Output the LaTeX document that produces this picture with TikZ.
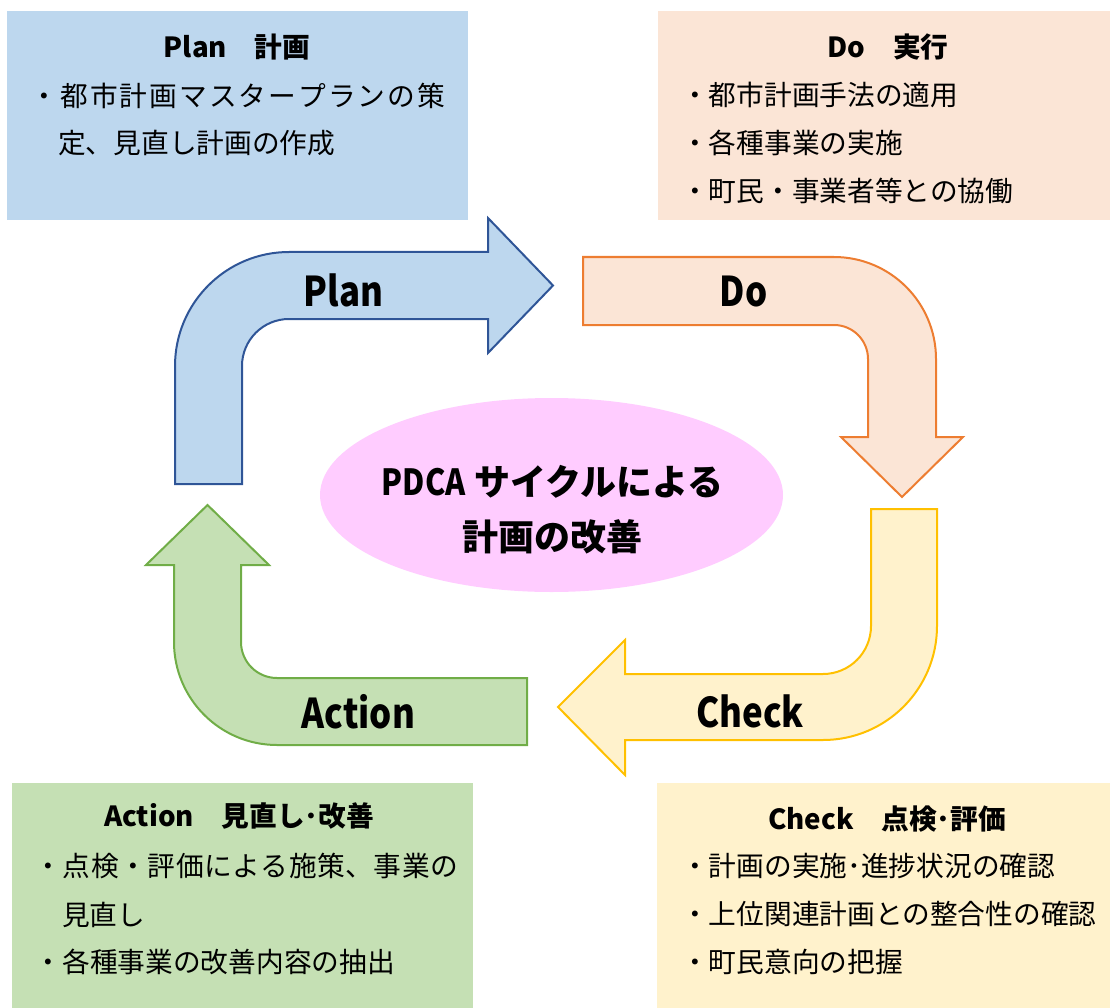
\documentclass[tikz,border=0pt]{standalone}
\usepackage{fontspec}
\setmainfont{Noto Sans CJK JP}
\newfontfamily\condfont[FakeStretch=0.85]{Noto Sans CJK JP}
\usetikzlibrary{shapes.geometric}
\definecolor{planfill}{HTML}{BDD7EE}
\definecolor{planline}{HTML}{2F5597}
\definecolor{dofill}{HTML}{FBE5D6}
\definecolor{doline}{HTML}{ED7D31}
\definecolor{checkfill}{HTML}{FFF2CC}
\definecolor{checkline}{HTML}{FFC000}
\definecolor{actfill}{HTML}{C5E0B4}
\definecolor{actline}{HTML}{70AD47}
\definecolor{pdcapink}{HTML}{FFCCFF}
\let\endspread\relax
\def\spreadit#1{\ifx#1\endspread\else\hfil#1\expandafter\spreadit\fi}
\tikzset{
  panel/.style={rectangle, inner sep=0pt, anchor=north west, draw=none},
  txt/.style={inner sep=0pt, anchor=west, font=\fontsize{27.7pt}{32pt}\selectfont},
  ttl/.style={inner sep=0pt, font=\fontsize{27.7pt}{32pt}\selectfont\bfseries},
  lbl/.style={inner sep=0pt, font=\fontsize{41pt}{46pt}\selectfont\condfont\bfseries},
  bigarrow/.style={line width=2pt, line join=miter},
}
\begin{document}
\begin{tikzpicture}[x=1pt,y=-1pt]
\useasboundingbox (0,0) rectangle (1110,1008);
% panels
\node[panel, fill=planfill, minimum width=461pt, minimum height=209pt] (planbox) at (7,11) {};
\node[panel, fill=dofill, minimum width=452pt, minimum height=209pt] (dobox) at (658,11) {};
\node[panel, fill=actfill, minimum width=461pt, minimum height=225pt] (actbox) at (12,783) {};
\node[panel, fill=checkfill, minimum width=453pt, minimum height=225pt] (checkbox) at (657,783) {};

% panel texts
\node[ttl] (plantitle) at (237,47) {Plan　計画};
\node[txt] (plan1) at (30.5,96) {\makebox[414.5pt][s]{・\spreadit 都市計画マスタープランの策\endspread}};
\node[txt] (plan2) at (58,143) {定、見直し計画の作成};

\node[ttl] (dotitle) at (888,47) {Do　実行};
\node[txt] (do1) at (681,95) {・都市計画手法の適用};
\node[txt] (do2) at (681,143) {・各種事業の実施};
\node[txt] (do3) at (681,191) {・町民・事業者等との協働};

\node[ttl] (acttitle) at (239,816) {Action　見直し･改善};
\node[txt] (act1) at (34.5,866) {\makebox[423.5pt][s]{・\spreadit 点検・評価による施策、事業の\endspread}};
\node[txt] (act2) at (62,915) {見直し};
\node[txt] (act3) at (34.5,962) {・各種事業の改善内容の抽出};

\node[ttl] (checktitle) at (887,819) {Check　点検･評価};
\node[txt] (check1) at (681,866) {・計画の実施･進捗状況の確認};
\node[txt] (check2) at (681,914) {・上位関連計画との整合性の確認};
\node[txt] (check3) at (681,962) {・町民意向の把握};

% Plan arrow
\path[bigarrow, fill=planfill, draw=planline]
  (175,484) -- (175,366) arc(180:270:114) -- (488,252) -- (488,218)
  -- (553,285.5) -- (488,353) -- (488,319) -- (289,319) arc(270:180:47)
  -- (242,484) -- cycle;
% Do arrow
\path[bigarrow, fill=dofill, draw=doline]
  (583,257) -- (834,257) arc(270:360:102) -- (936,437) -- (963,437)
  -- (902,497) -- (841,437) -- (868,437) -- (868,359) arc(0:-90:34)
  -- (583,325) -- cycle;
% Check arrow
\path[bigarrow, fill=checkfill, draw=checkline]
  (871,509) -- (937,509) -- (937,626) arc(0:90:114) -- (625,740) -- (625,775)
  -- (558,707) -- (625,640) -- (625,674) -- (823,674) arc(90:0:48) -- cycle;
% Action arrow
\path[bigarrow, fill=actfill, draw=actline]
  (527,678) -- (527,745) -- (277,745) arc(90:180:103) -- (174,565) -- (146,565)
  -- (207.5,505) -- (269,565) -- (241,565) -- (241,642) arc(180:90:36) -- cycle;

% arrow labels
\node[lbl] (planlbl) at (343.5,290) {Plan};
\node[lbl] (dolbl) at (743.5,292) {Do};
\node[lbl] (checklbl) at (750,711) {Check};
\node[lbl] (actlbl) at (358.5,712) {Action};

% centre ellipse
\node[ellipse, fill=pdcapink, inner sep=0pt, minimum width=463pt, minimum height=194pt] (hub) at (551.5,495) {};
\node[inner sep=0pt, font=\fontsize{36pt}{40pt}\selectfont\bfseries] (hub1) at (552.5,482) {{\condfont PDCA} サイクルによる};
\node[inner sep=0pt, font=\fontsize{36pt}{40pt}\selectfont\bfseries] (hub2) at (552.5,537) {計画の改善};
\end{tikzpicture}
\end{document}
